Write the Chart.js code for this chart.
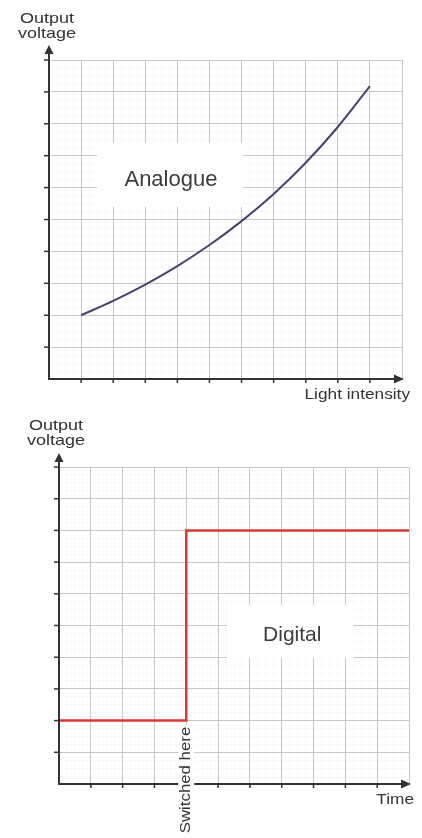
<!DOCTYPE html>
<html><head><meta charset="utf-8">
<script src="https://cdn.jsdelivr.net/npm/chart.js@4.4.0/dist/chart.umd.min.js"></script>
<style>
html,body{margin:0;padding:0;background:#fff;width:422px;height:838px;overflow:hidden}
canvas{position:absolute;left:0}
#c1{top:0}
#c2{top:410px}
</style></head><body>
<canvas id="c1" width="422" height="410"></canvas>
<canvas id="c2" width="422" height="428"></canvas>
<script>
// ---- data ----
const lightIntensity = [1, 2, 3, 4, 5, 6, 7, 8, 9, 10];
const analogueVoltage = [2.0, 2.45, 2.96, 3.54, 4.2, 4.95, 5.8, 6.78, 7.9, 9.18];
const digitalTime = [0, 4, 11];
const digitalVoltage = [2, 8, 8];
const switchTime = 4;
const gridXTicks = [1, 2, 3, 4, 5, 6, 7, 8, 9, 10];
const gridYTicks = [1, 2, 3, 4, 5, 6, 7, 8, 9, 10];
const yAxisTitle = ['Output', 'voltage'];
const analogueXTitle = 'Light intensity';
const digitalXTitle = 'Time';
const analogueLabel = 'Analogue';
const digitalLabel = 'Digital';
const switchLabel = 'Switched here';

const FONT = '"Liberation Sans", Arial, sans-serif';
const AXIS = '#333';

function drawText(ctx, text, x, y, size, sx, align, rot, color) {
  ctx.save();
  ctx.translate(x, y);
  if (rot) ctx.rotate(rot);
  ctx.scale(sx, 1);
  ctx.font = size + 'px ' + FONT;
  ctx.fillStyle = color;
  ctx.textAlign = align;
  ctx.textBaseline = 'middle';
  ctx.fillText(text, 0, 0);
  ctx.restore();
}

const decor = {
  id: 'decor',
  beforeDatasetsDraw(chart, args, o) {
    const {ctx, scales: {x, y}} = chart;
    const b = o.box;
    const x1 = x.getPixelForValue(b[0]), x2 = x.getPixelForValue(b[1]);
    const y1 = y.getPixelForValue(b[3]), y2 = y.getPixelForValue(b[2]);
    ctx.save();
    ctx.fillStyle = '#fff';
    ctx.fillRect(x1, y1, x2 - x1, y2 - y1);
    ctx.restore();
    drawText(ctx, o.label, x.getPixelForValue(o.labelAt[0]), y.getPixelForValue(o.labelAt[1]), o.labelSize, 1, 'center', 0, '#3c3c3c');
  },
  afterDatasetsDraw(chart, args, o) {
    const {ctx, chartArea: a, scales: {x, y}} = chart;
    const ax = x.getPixelForValue(0), ay = y.getPixelForValue(0);
    ctx.save();
    ctx.strokeStyle = AXIS; ctx.fillStyle = AXIS; ctx.lineWidth = 2;
    const tipY = a.top - o.arrowUp;
    ctx.beginPath(); ctx.moveTo(ax, ay + 1); ctx.lineTo(ax, tipY + 6); ctx.stroke();
    ctx.beginPath(); ctx.moveTo(ax, tipY); ctx.lineTo(ax - 4.5, tipY + 9); ctx.lineTo(ax + 4.5, tipY + 9); ctx.closePath(); ctx.fill();
    const tipX = a.right + o.arrowRight;
    ctx.beginPath(); ctx.moveTo(ax - 1, ay); ctx.lineTo(tipX - 6, ay); ctx.stroke();
    ctx.beginPath(); ctx.moveTo(tipX, ay); ctx.lineTo(tipX - 10, ay - 4.5); ctx.lineTo(tipX - 10, ay + 4.5); ctx.closePath(); ctx.fill();
    ctx.lineWidth = 1.5;
    gridYTicks.forEach(v => {
      const py = y.getPixelForValue(v);
      ctx.beginPath(); ctx.moveTo(ax - 5, py); ctx.lineTo(ax, py); ctx.stroke();
    });
    gridXTicks.forEach(v => {
      const px = x.getPixelForValue(v);
      ctx.beginPath(); ctx.moveTo(px, ay); ctx.lineTo(px, ay + 4); ctx.stroke();
    });
    ctx.restore();
    drawText(ctx, yAxisTitle[0], ax + o.yTitleDx, a.top - 41, 15, 1.2, 'center', 0, AXIS);
    drawText(ctx, yAxisTitle[1], ax + o.yTitleDx, a.top - 26, 15, 1.2, 'center', 0, AXIS);
    drawText(ctx, o.xTitle, o.xTitleRight, ay + o.xTitleDy, 15, 1.15, 'right', 0, AXIS);
    if (o.switchLabel) {
      const px = x.getPixelForValue(o.switchAt);
      const cy = ay + o.switchDy;
      ctx.save();
      ctx.font = '15px ' + FONT;
      const w = ctx.measureText(o.switchLabel).width * 1.12;
      ctx.fillStyle = '#fff';
      ctx.fillRect(px - 8, cy - w / 2 - 2, 16, w + 4);
      ctx.restore();
      drawText(ctx, o.switchLabel, px, cy, 15, 1.12, 'center', -Math.PI / 2, AXIS);
    }
  }
};

function scalesCfg(xmax, ymax) {
  const minor = 'rgba(0,0,0,0.022)';
  const major = '#c6c6c6';
  return {
    xm: {type: 'linear', position: 'bottom', min: 0, max: xmax, z: -1,
      ticks: {display: false, stepSize: 0.25, maxTicksLimit: 200},
      grid: {color: minor, drawTicks: false}, border: {display: false}},
    ym: {type: 'linear', position: 'left', min: 0, max: ymax, z: -1,
      ticks: {display: false, stepSize: 0.25, maxTicksLimit: 200},
      grid: {color: minor, drawTicks: false}, border: {display: false}},
    x: {type: 'linear', position: 'bottom', min: 0, max: xmax,
      ticks: {display: false, stepSize: 1},
      grid: {color: major, drawTicks: false, lineWidth: 1}, border: {display: false}},
    y: {type: 'linear', position: 'left', min: 0, max: ymax,
      ticks: {display: false, stepSize: 1},
      grid: {color: major, drawTicks: false, lineWidth: 1}, border: {display: false}}
  };
}

Chart.defaults.font.family = FONT;

new Chart(document.getElementById('c1'), {
  type: 'line',
  data: {
    datasets: [{
      data: lightIntensity.map((v, i) => ({x: v, y: analogueVoltage[i]})),
      borderColor: '#46446e', borderWidth: 2, pointRadius: 0,
      cubicInterpolationMode: 'monotone', xAxisID: 'x', yAxisID: 'y'
    }]
  },
  options: {
    responsive: false, animation: false,
    layout: {padding: {left: 49, top: 60, right: 20, bottom: 31}},
    scales: scalesCfg(11, 10),
    plugins: {
      legend: {display: false}, tooltip: {enabled: false},
      decor: {
        box: [1.5, 6.05, 5.4, 7.4], label: analogueLabel, labelAt: [3.8, 6.25], labelSize: 22,
        arrowUp: 15, arrowRight: 2, yTitleDx: -2,
        xTitle: analogueXTitle, xTitleRight: 410, xTitleDy: 16
      }
    }
  },
  plugins: [decor]
});

new Chart(document.getElementById('c2'), {
  type: 'line',
  data: {
    datasets: [{
      data: digitalTime.map((v, i) => ({x: v, y: digitalVoltage[i]})),
      stepped: 'before',
      borderColor: '#d63a30', borderWidth: 2.5, pointRadius: 0,
      xAxisID: 'x', yAxisID: 'y'
    }]
  },
  options: {
    responsive: false, animation: false,
    layout: {padding: {left: 59, top: 57, right: 13, bottom: 54}},
    scales: scalesCfg(11, 10),
    plugins: {
      legend: {display: false}, tooltip: {enabled: false},
      decor: {
        box: [5.28, 9.25, 3.97, 5.65], label: digitalLabel, labelAt: [7.33, 4.7], labelSize: 21,
        arrowUp: 14, arrowRight: 2, yTitleDx: -3,
        xTitle: digitalXTitle, xTitleRight: 414, xTitleDy: 16,
        switchLabel: switchLabel, switchAt: switchTime, switchDy: -4
      }
    }
  },
  plugins: [decor]
});
</script>
</body></html>
